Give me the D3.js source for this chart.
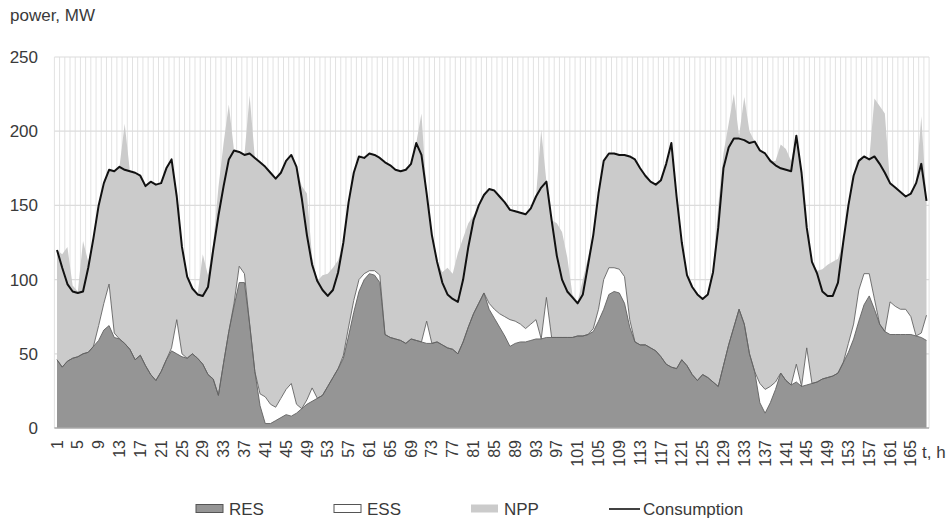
<!DOCTYPE html>
<html>
<head>
<meta charset="utf-8">
<script src="https://cdn.jsdelivr.net/npm/d3@7"></script>
<style>
  html, body { margin: 0; padding: 0; background: #fff; }
  svg text { font-family: "Liberation Sans", Arial, sans-serif; fill: #3a3a3a; }
</style>
</head>
<body>
<svg id="chart" width="952" height="521"></svg>
<script>
// Hourly power balance over one week (168 h), MW
const hours = d3.range(1, 169);

const res = [
  46,41,45,47,48,50,51,55,59,66, 69,61,60,57,53,46,49,42,36,32,
  38,46,52,50,48,47,50,47,43,36, 33,22,44,65,82,98,98,70,38,15,
  3,3,5,7,9,8,10,13,16,18, 20,22,28,34,40,47,62,78,92,100,
  104,103,98,63,61,60,59,57,60,59, 58,57,57,58,56,54,53,50,58,68,
  77,84,91,80,74,68,62,55,57,58, 58,59,60,60,61,61,61,61,61,61,
  62,62,63,65,72,80,90,92,91,84, 68,58,56,56,54,52,48,43,41,40,
  46,42,36,32,36,34,31,28,42,56, 68,80,70,50,38,17,10,17,26,37,
  32,29,31,28,29,30,31,33,34,35, 37,44,51,60,72,83,89,80,70,65,
  63,63,63,63,63,62,61,59
];

const ess = [
  0,0,0,0,0,0,0,0,10,18, 28,3,0,0,0,0,0,0,0,0,
  0,0,2,23,2,0,0,0,0,0, 0,0,0,0,2,11,6,0,0,8,
  18,13,9,13,17,22,6,0,3,9, 0,0,0,0,0,2,6,8,8,4,
  2,3,5,0,0,0,0,0,0,0, 0,15,0,0,0,0,0,0,0,0,
  0,0,0,4,6,9,13,18,15,12, 9,11,13,0,27,0,0,0,0,0,
  0,0,0,2,8,20,18,16,16,18, 5,0,0,0,0,0,0,0,0,0,
  0,0,0,0,0,0,0,0,0,0, 0,0,0,0,0,13,16,11,5,0,
  0,0,12,0,25,0,0,0,0,0, 0,0,6,10,21,21,15,7,0,0,
  22,19,17,17,12,0,3,17
];

const npp = [
  74,76,77,49,44,76,61,73,81,81, 77,109,116,148,120,126,121,121,130,132,
  127,129,127,83,72,55,44,43,74,67, 91,140,148,153,103,77,80,154,144,156,
  155,156,154,152,154,154,160,150,139,88, 79,81,76,74,73,76,84,86,83,78,
  79,78,79,116,116,114,114,117,118,133, 154,86,73,54,49,54,51,68,70,70,
  66,66,66,77,80,79,77,74,74,75, 77,78,83,141,78,79,77,71,54,29,
  23,38,52,65,78,80,77,77,77,82, 110,123,119,114,112,112,119,135,151,116,
  79,61,59,58,51,56,74,122,143,149, 157,117,153,150,155,157,159,152,149,154,
  156,151,154,144,81,82,75,74,76,77, 77,81,93,100,87,79,77,135,147,147,
  80,80,79,76,83,103,146,77
];

const consumption = [
  120,108,97,92,91,92,108,128,150,165, 174,173,176,174,173,172,170,163,166,164,
  165,175,181,156,122,102,94,90,89,95, 120,143,163,181,187,186,184,185,182,179,
  176,172,168,172,180,184,176,155,130,110, 99,93,89,93,105,125,152,172,183,182,
  185,184,182,179,177,174,173,174,178,192, 184,158,130,112,98,90,87,85,100,122,
  140,150,157,161,160,156,152,147,146,145, 144,148,156,162,166,140,116,100,92,88,
  84,90,110,130,158,180,185,185,184,184, 183,181,175,170,166,164,167,178,192,156,
  125,103,95,90,87,90,105,135,175,189, 195,195,194,192,193,187,185,180,177,175,
  174,173,197,172,135,112,104,92,89,89, 98,125,150,170,180,183,181,183,178,172,
  165,162,159,156,158,165,178,153
];

const yTicks = [0, 50, 100, 150, 200, 250];
const xTickLabels = [1,5,9,13,17,21,25,29,33,37,41,45,49,53,57,61,65,69,73,77,81,
  85,89,93,97,101,105,109,113,117,121,125,129,133,137,141,145,149,153,157,161,165];

const seriesKeys = ["RES", "ESS", "NPP"];
const fills = { RES: "#959595", ESS: "#ffffff", NPP: "#cbcbcb" };

const svg = d3.select("#chart");

const x = d3.scaleLinear().domain([1, 168]).range([57, 926.5]);
const y = d3.scaleLinear().domain([0, 250]).range([428, 57]);

const left = x(0.5), right = x(168.5);

// background grid: one vertical line per hour, horizontal every 50 MW
const grid = svg.append("g");
grid.selectAll("line.v")
  .data(d3.range(0.5, 169, 1))
  .join("line")
  .attr("x1", d => x(d)).attr("x2", d => x(d))
  .attr("y1", y(250)).attr("y2", y(0))
  .attr("stroke", "#e2e2e2").attr("stroke-width", 1);
grid.selectAll("line.h")
  .data(yTicks.filter(v => v > 0))
  .join("line")
  .attr("x1", left).attr("x2", right)
  .attr("y1", d => y(d)).attr("y2", d => y(d))
  .attr("stroke", "#dcdcdc").attr("stroke-width", 1.2);

// stacked generation areas
const rows = hours.map((h, i) => ({ hour: h, RES: res[i], ESS: ess[i], NPP: npp[i] }));
const stacked = d3.stack().keys(seriesKeys)(rows);

const area = d3.area()
  .x(d => x(d.data.hour))
  .y0(d => y(d[0]))
  .y1(d => y(d[1]));

svg.append("g").selectAll("path")
  .data(stacked.slice().reverse())
  .join("path")
  .attr("d", area)
  .attr("fill", d => fills[d.key]);

// thin borders on top of RES and ESS layers
const topLine = d3.line().x(d => x(d.data.hour)).y(d => y(d[1]));
svg.append("g").selectAll("path")
  .data(stacked.filter(s => s.key !== "NPP"))
  .join("path")
  .attr("d", topLine)
  .attr("fill", "none")
  .attr("stroke", "#626262")
  .attr("stroke-width", 0.9);

// consumption curve
const consLine = d3.line()
  .x((d, i) => x(hours[i]))
  .y(d => y(d));
svg.append("path")
  .datum(consumption)
  .attr("d", consLine)
  .attr("fill", "none")
  .attr("stroke", "#111")
  .attr("stroke-width", 2)
  .attr("stroke-linejoin", "round");

// x axis baseline
svg.append("line")
  .attr("x1", left).attr("x2", right)
  .attr("y1", y(0)).attr("y2", y(0))
  .attr("stroke", "#a8a8a8").attr("stroke-width", 1.5);

// y axis labels
svg.append("g").selectAll("text")
  .data(yTicks)
  .join("text")
  .attr("x", 38)
  .attr("y", d => y(d))
  .attr("dy", "0.35em")
  .attr("text-anchor", "end")
  .style("font-size", "17px")
  .text(d => d);

// x axis labels, rotated
svg.append("g").selectAll("text")
  .data(xTickLabels)
  .join("text")
  .attr("transform", d => `translate(${x(d)},440) rotate(-90)`)
  .attr("dy", "0.35em")
  .attr("text-anchor", "end")
  .style("font-size", "16px")
  .text(d => d);

svg.append("text")
  .attr("x", 922).attr("y", 458)
  .style("font-size", "17px")
  .text("t, h");

svg.append("text")
  .attr("x", 10).attr("y", 21)
  .style("font-size", "17px")
  .text("power, MW");

// legend
const legend = svg.append("g");
const legendItems = [
  { key: "RES", x: 196 },
  { key: "ESS", x: 334 },
  { key: "NPP", x: 471 },
  { key: "Consumption", x: 609 }
];
legendItems.forEach(item => {
  if (item.key === "Consumption") {
    legend.append("line")
      .attr("x1", item.x).attr("x2", item.x + 31)
      .attr("y1", 509).attr("y2", 509)
      .attr("stroke", "#111").attr("stroke-width", 1.6);
  } else {
    legend.append("rect")
      .attr("x", item.x).attr("y", 504.5)
      .attr("width", 27).attr("height", 8)
      .attr("fill", fills[item.key])
      .attr("stroke", item.key === "NPP" ? "none" : "#555")
      .attr("stroke-width", 1);
  }
  legend.append("text")
    .attr("x", item.key === "Consumption" ? item.x + 34 : item.x + 33)
    .attr("y", 515)
    .style("font-size", "17px")
    .text(item.key);
});
</script>
</body>
</html>
